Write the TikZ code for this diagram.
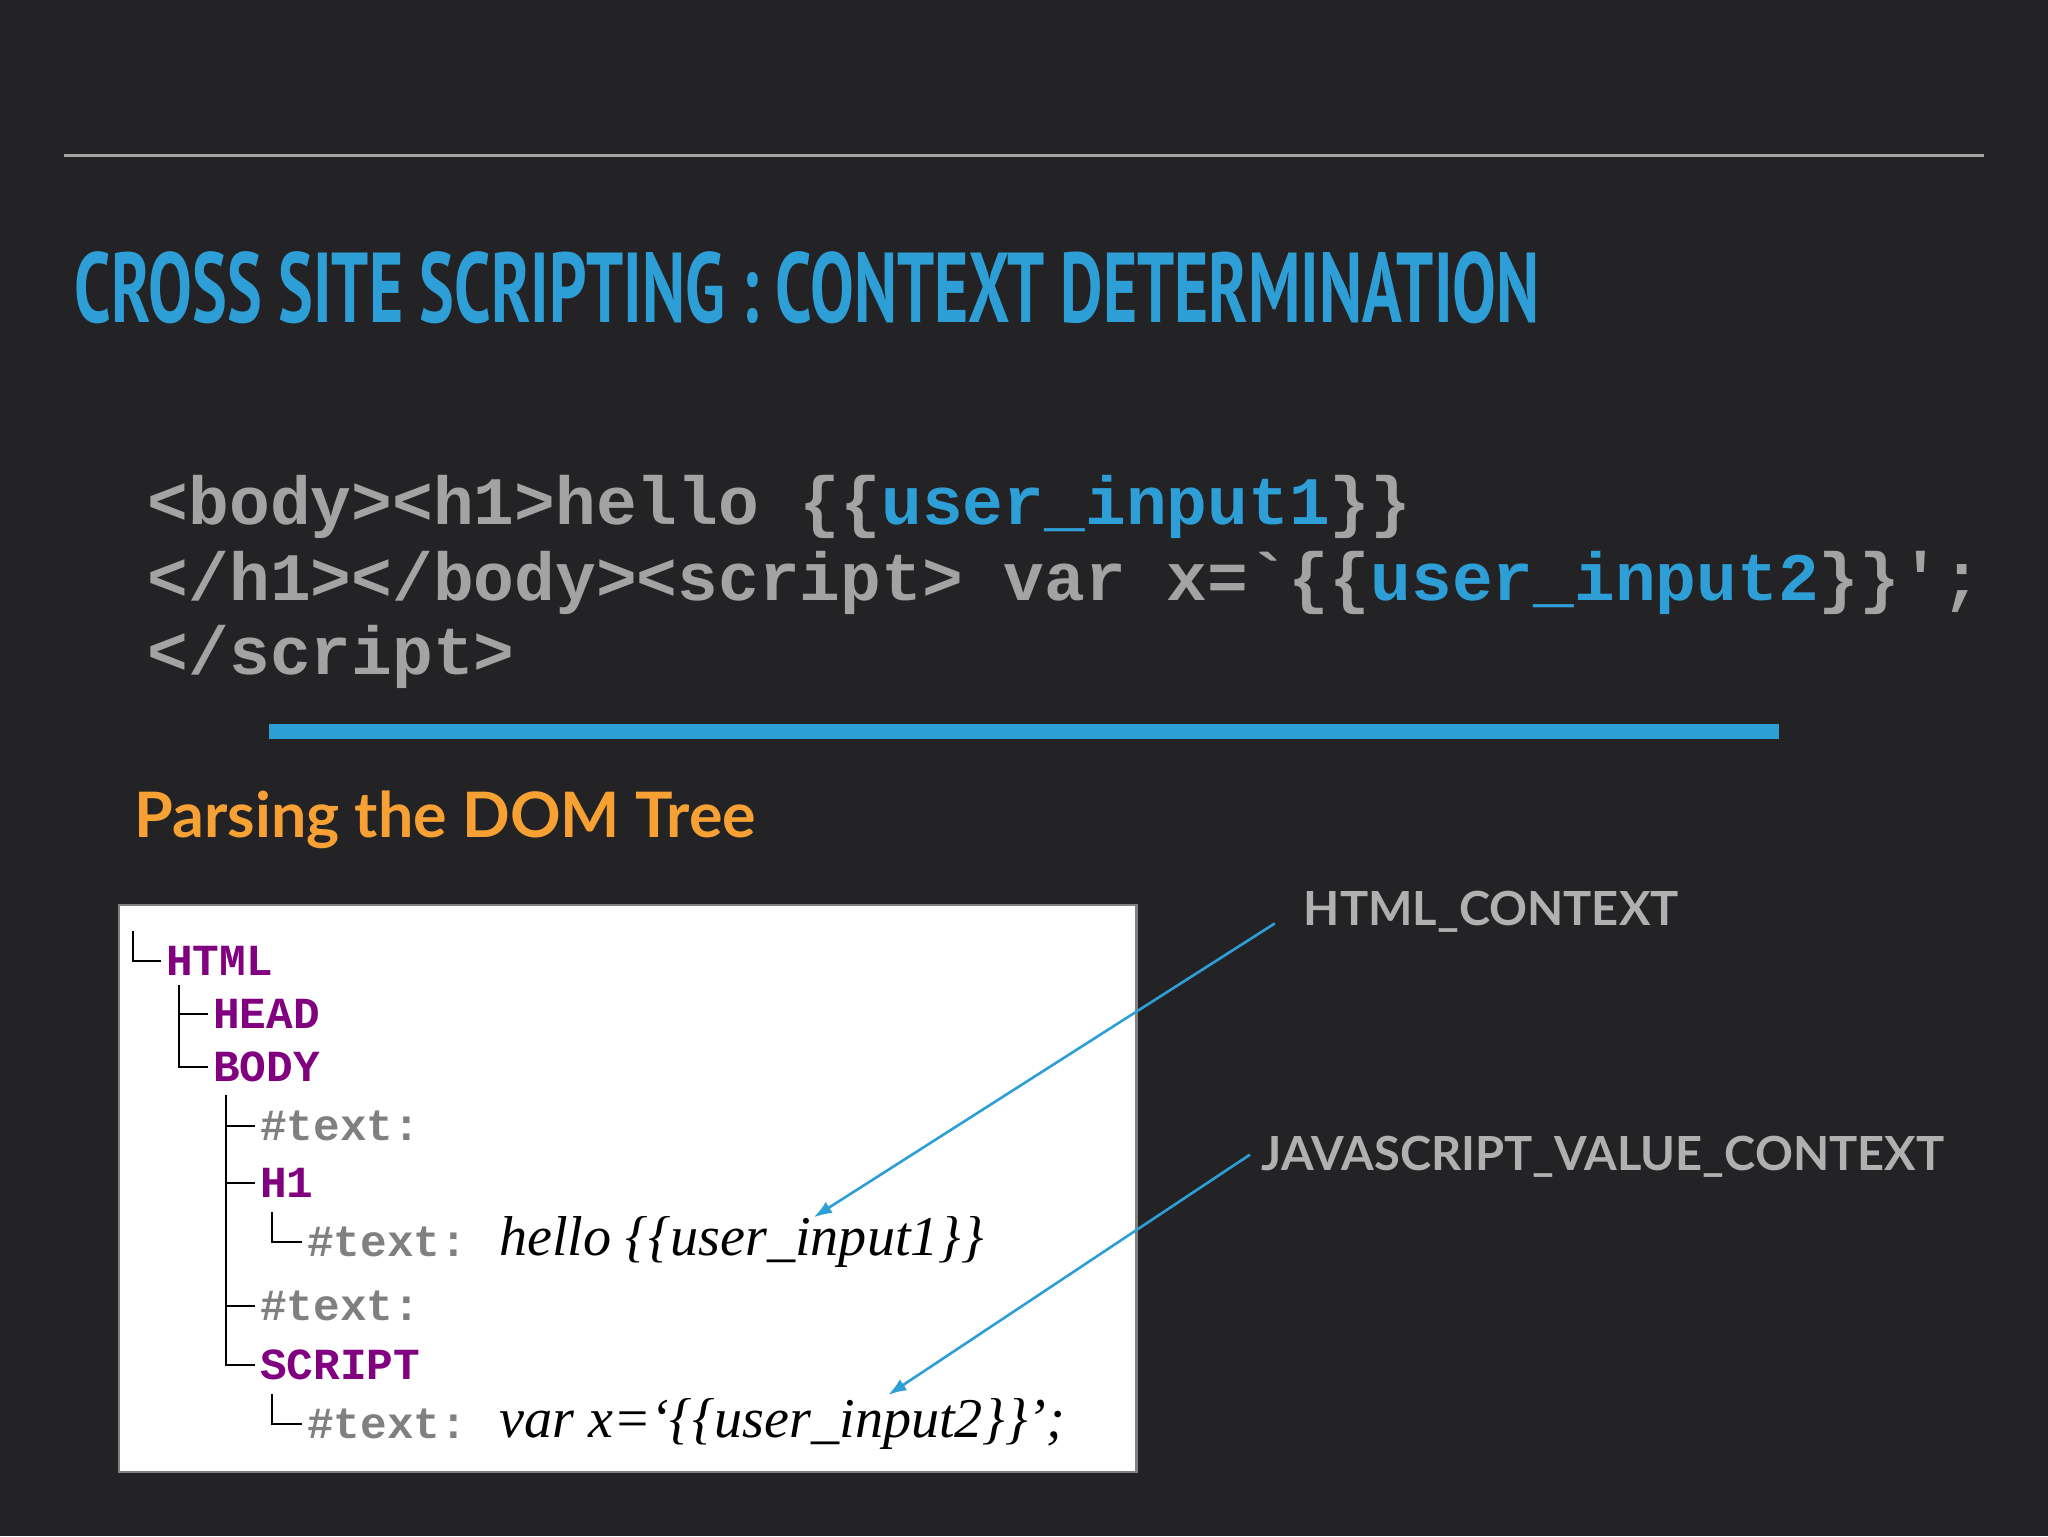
\documentclass[tikz,border=0pt]{standalone}
\usepackage{fontspec}
\setmainfont{Liberation Serif}
\newfontfamily\codef{Liberation Mono}
\newfontfamily\titlef{PT Sans}
\newfontfamily\headf{Lato}
\definecolor{bg}{HTML}{232325}
\definecolor{tblue}{HTML}{2E9FD6}
\definecolor{cgray}{HTML}{A3A3A3}
\definecolor{orng}{HTML}{F7A033}
\definecolor{purp}{HTML}{800080}
\definecolor{tgray}{HTML}{808080}
\definecolor{lgray}{HTML}{B0B0B0}
\tikzset{
 codeline/.style={anchor=west,inner sep=0,text=cgray,font=\codef\bfseries\fontsize{52}{52}\selectfont},
 tag/.style={anchor=west,inner sep=0,text=purp,font=\codef\bfseries\fontsize{34}{34}\selectfont},
 ttext/.style={anchor=west,inner sep=0,text=tgray,font=\codef\bfseries\fontsize{34}{34}\selectfont},
 itl/.style={anchor=west,inner sep=0,text=black,font=\itshape\fontsize{43}{43}\selectfont},
 ctx/.style={anchor=west,inner sep=0,text=lgray,font=\headf\bfseries\fontsize{36}{36}\selectfont},
 tree/.style={black,line width=1.5pt},
 ptr/.style={tblue,line width=2pt,-{Latex[length=14pt,width=10pt]}}
}
\usetikzlibrary{arrows.meta}
\begin{document}
\begin{tikzpicture}[x=1pt,y=-1pt]
\fill[bg] (0,0) rectangle (1568,1176);
\useasboundingbox (0,0) rectangle (1568,1176);
\draw[cgray,line width=2.5pt] (49,119) -- (1519,119);
\node[anchor=west,inner sep=0,text=tblue,font=\titlef\bfseries\fontsize{76}{76}\selectfont,xscale=0.66] (title) at (57,220) {CROSS SITE SCRIPTING : CONTEXT DETERMINATION};
\node[codeline] (c1) at (113,388) {<body><h1>hello \{\{\textcolor{tblue}{user\_input1}\}\}};
\node[codeline] (c2) at (113,446) {</h1></body><script> var x=`\{\{\textcolor{tblue}{user\_input2}\}\}';};
\node[codeline] (c3) at (113,503) {</script>};
\fill[tblue] (206,554) rectangle (1362,566);
\node[anchor=west,inner sep=0,text=orng,font=\headf\bfseries\fontsize{48}{48}\selectfont] (ph) at (103,628) {Parsing the DOM Tree};
\node[draw=gray,line width=2pt,fill=white,minimum width=779,minimum height=434,anchor=north west,inner sep=0] (box) at (90,692) {};
\node[tag] (html) at (127,736) {HTML};
\node[tag] (head) at (163,776) {HEAD};
\node[tag] (body) at (163,817) {BODY};
\node[ttext] (t1) at (199,862) {\#text:};
\node[tag] (h1) at (199,906) {H1};
\node[ttext] (t2) at (235,951) {\#text:};
\node[itl] (i1) at (382,951) {hello \{\{user\_input1\}\}};
\node[ttext] (t3) at (199,1000) {\#text:};
\node[tag] (scr) at (199,1045) {SCRIPT};
\node[ttext] (t4) at (235,1090) {\#text:};
\node[itl] (i2) at (382,1090) {var x=`\{\{user\_input2\}\}';};
\draw[tree] (102,713) |- ([xshift=-4pt]html.west);
\draw[tree] (137,754) |- ([xshift=-4pt]body.west);
\draw[tree] (137,776) -- ([xshift=-4pt]head.west);
\draw[tree] (173,838) |- ([xshift=-4pt]scr.west);
\draw[tree] (173,862) -- ([xshift=-4pt]t1.west);
\draw[tree] (173,906) -- ([xshift=-4pt]h1.west);
\draw[tree] (173,1000) -- ([xshift=-4pt]t3.west);
\draw[tree] (208,928) |- ([xshift=-4pt]t2.west);
\draw[tree] (208,1067) |- ([xshift=-4pt]t4.west);
\node[ctx] (l1) at (998,698) {HTML\_CONTEXT};
\node[ctx] (l2) at (966,886) {JAVASCRIPT\_VALUE\_CONTEXT};
\coordinate (a1) at (623,932);
\coordinate (a2) at (680,1068);
\draw[ptr] (976,707) -- (a1);
\draw[ptr] (957,884) -- (a2);
\end{tikzpicture}
\end{document}
